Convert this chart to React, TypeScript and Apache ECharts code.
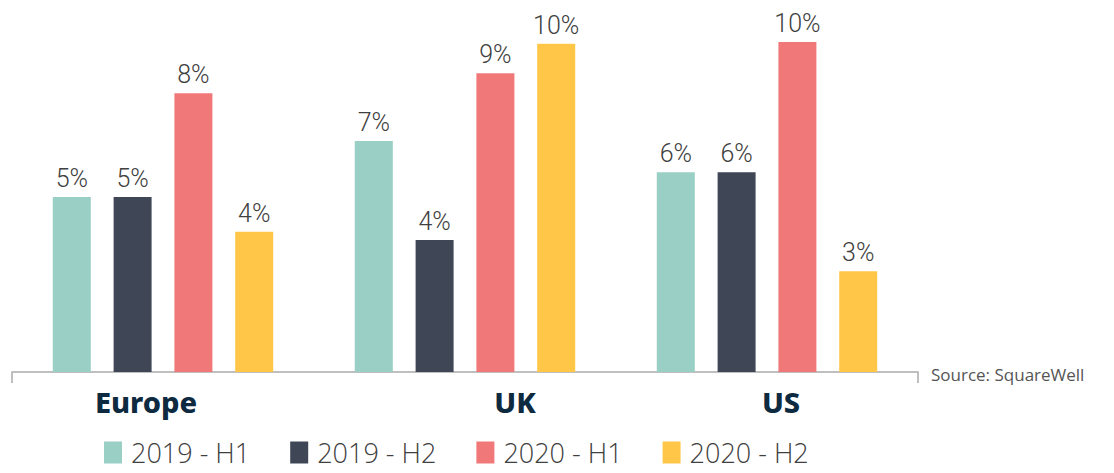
import React, { useEffect, useRef } from "react";
import * as echarts from "echarts";

const categories = ["Europe", "UK", "US"];
const seriesNames = ["2019 - H1", "2019 - H2", "2020 - H1", "2020 - H2"];
const h1_2019 = [5.3, 7.0, 6.05];
const h2_2019 = [5.3, 4.0, 6.05];
const h1_2020 = [8.45, 9.05, 10.0];
const h2_2020 = [4.25, 9.95, 3.05];
const seriesValues = [h1_2019, h2_2019, h1_2020, h2_2020];
const colors = ["#99CFC5", "#3F4756", "#F07878", "#FFC648"];
const sourceText = "Source: SquareWell";

export default function App() {
  const ref = useRef<HTMLDivElement>(null);
  useEffect(() => {
    if (!ref.current) return;
    const chart = echarts.init(ref.current, null, { renderer: "svg" });
    const labelShift: Record<string, string> = { Europe: "l", UK: "r", US: "s" };
    const catStyle = { fontFamily: "Noto Sans", fontWeight: 800, fontSize: 29, color: "#0E2A40" };
    chart.setOption({
      animation: false,
      color: colors,
      grid: { left: 12, right: 196, top: 42, bottom: 101, containLabel: false },
      title: {
        text: sourceText,
        left: 926,
        top: 361,
        textStyle: { fontFamily: "Open Sans", fontWeight: 400, fontSize: 17, color: "#555555" },
      },
      legend: {
        left: 104,
        top: 439,
        itemWidth: 18,
        itemHeight: 22,
        itemGap: 40,
        icon: "rect",
        padding: 0,
        textStyle: {
          fontFamily: "Open Sans",
          fontWeight: 300,
          fontSize: 27,
          lineHeight: 27,
          color: "#404040",
          padding: [0, 0, 0, 4],
        },
        data: seriesNames,
      },
      xAxis: {
        type: "category",
        data: categories,
        axisLine: { show: true, lineStyle: { color: "#BFBFBF", width: 2 } },
        axisTick: { show: false },
        axisLabel: {
          margin: 15,
          formatter: (v: string) => `{${labelShift[v]}|${v}}`,
          rich: {
            l: { ...catStyle, padding: [0, 34, 0, 0] },
            r: { ...catStyle, padding: [0, 0, 0, 100] },
            s: { ...catStyle, padding: [0, 0, 0, 28] },
          },
        },
      },
      yAxis: {
        type: "value",
        min: 0,
        max: 10,
        show: false,
        splitLine: { show: false },
      },
      graphic: [
        { type: "line", shape: { x1: 12, y1: 372, x2: 12, y2: 383 }, style: { stroke: "#BFBFBF", lineWidth: 2 } },
        { type: "line", shape: { x1: 918, y1: 372, x2: 918, y2: 383 }, style: { stroke: "#BFBFBF", lineWidth: 2 } },
      ],
      series: seriesNames.map((name, i) => ({
        name,
        type: "bar",
        data: seriesValues[i],
        barWidth: 38,
        barGap: "60%",
        label: {
          show: true,
          position: "top",
          distance: 6,
          formatter: (p: any) => `${Math.round(p.value)}%`,
          fontFamily: "Roboto",
          fontWeight: 300,
          fontSize: 25,
          color: "#404040",
        },
      })),
    });
    return () => chart.dispose();
  }, []);
  return (
    <div
      ref={ref}
      style={{ position: "fixed", left: 0, top: 0, width: 1114, height: 473, background: "#ffffff" }}
    />
  );
}
